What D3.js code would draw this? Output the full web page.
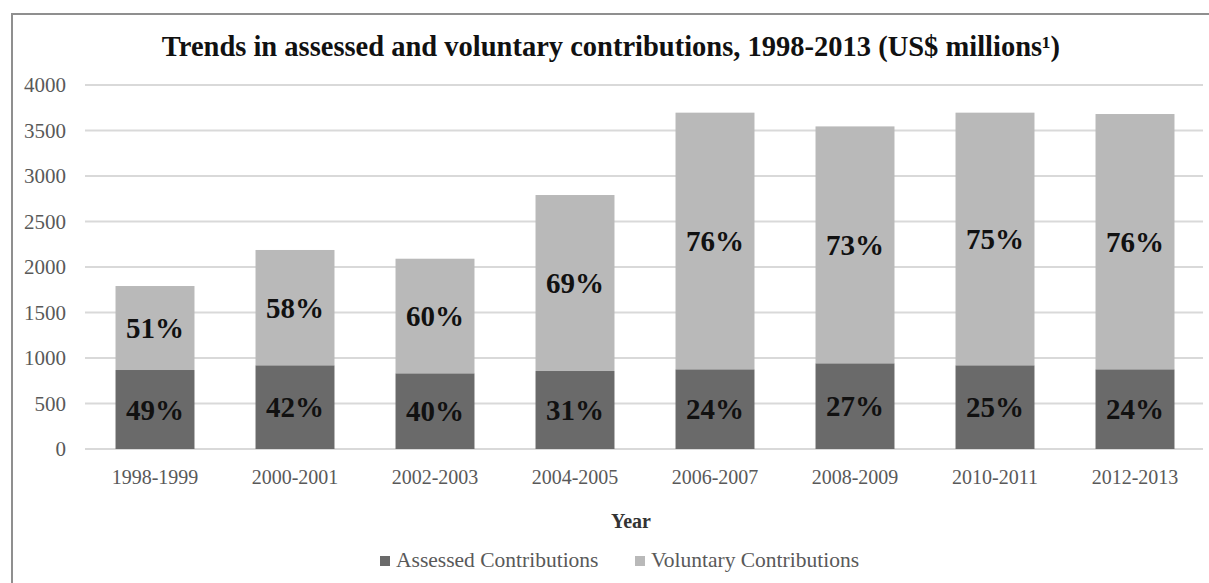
<!DOCTYPE html>
<html>
<head>
<meta charset="utf-8">
<script src="https://cdn.jsdelivr.net/npm/d3@7/dist/d3.min.js"></script>
<style>
  html, body { margin: 0; padding: 0; background: #fff; }
  svg { display: block; }
  text { font-family: "Liberation Serif", "Times New Roman", serif; }
</style>
</head>
<body>
<svg id="chart" width="1209" height="583"></svg>
<script>
// Biennium labels on the x axis
const periods = ["1998-1999", "2000-2001", "2002-2003", "2004-2005",
                 "2006-2007", "2008-2009", "2010-2011", "2012-2013"];
// US$ millions per biennium
const assessed  = [868, 920, 832, 857, 876, 942, 920, 876];
const voluntary = [923, 1267, 1259, 1934, 2820, 2603, 2776, 2805];
// Share of the biennium total, as printed on each segment
const assessedPct  = ["49%", "42%", "40%", "31%", "24%", "27%", "25%", "24%"];
const voluntaryPct = ["51%", "58%", "60%", "69%", "76%", "73%", "75%", "76%"];
const yTicks = [0, 500, 1000, 1500, 2000, 2500, 3000, 3500, 4000];

const seriesNames = ["Assessed Contributions", "Voluntary Contributions"];
const seriesColors = ["#6a6a6a", "#b9b9b9"];

const svg = d3.select("#chart");
const W = 1209, H = 583;
const plot = { left: 85, right: 1205, top: 85, bottom: 449 };

// Outer frame of the chart area
svg.append("rect")
  .attr("x", 12).attr("y", 14)
  .attr("width", W + 40).attr("height", H + 40)
  .attr("fill", "#fff").attr("stroke", "#8f8f8f").attr("stroke-width", 2);

// Title
svg.append("text")
  .attr("x", 611).attr("y", 56)
  .attr("text-anchor", "middle")
  .attr("font-size", 28.5).attr("font-weight", "bold").attr("fill", "#111")
  .text("Trends in assessed and voluntary contributions, 1998-2013 (US$ millions¹)");

const x = d3.scaleBand()
  .domain(periods)
  .range([plot.left, plot.right])
  .paddingInner(0.436)
  .paddingOuter(0.218);

const y = d3.scaleLinear()
  .domain([0, 4000])
  .range([plot.bottom, plot.top]);

// Horizontal gridlines
svg.append("g")
  .selectAll("line")
  .data(yTicks)
  .join("line")
  .attr("x1", plot.left).attr("x2", plot.right - 2)
  .attr("y1", d => y(d)).attr("y2", d => y(d))
  .attr("stroke", "#d9d9d9").attr("stroke-width", 2);

// Y axis labels
const yAxis = d3.axisLeft(y).tickValues(yTicks).tickSize(0).tickPadding(0)
  .tickFormat(d3.format("d"));
svg.append("g")
  .attr("transform", `translate(66,0)`)
  .call(yAxis)
  .call(g => g.select(".domain").remove())
  .call(g => g.selectAll("text")
    .attr("font-family", "Liberation Serif, serif")
    .attr("font-size", 21).attr("fill", "#595959"));

// Stacked bars
const rows = periods.map((p, i) => ({ period: p, assessed: assessed[i], voluntary: voluntary[i] }));
const stack = d3.stack().keys(["assessed", "voluntary"])(rows);
const labels = [assessedPct, voluntaryPct];

stack.forEach((layer, k) => {
  const g = svg.append("g");
  g.selectAll("rect")
    .data(layer)
    .join("rect")
    .attr("x", d => x(d.data.period))
    .attr("width", x.bandwidth())
    .attr("y", d => y(d[1]))
    .attr("height", d => y(d[0]) - y(d[1]))
    .attr("fill", seriesColors[k]);
  g.selectAll("text")
    .data(layer)
    .join("text")
    .attr("x", d => x(d.data.period) + x.bandwidth() / 2)
    .attr("y", d => (y(d[0]) + y(d[1])) / 2)
    .attr("dy", "0.35em")
    .attr("text-anchor", "middle")
    .attr("font-size", 29).attr("font-weight", "bold").attr("fill", "#111")
    .text((d, i) => labels[k][i]);
});

// X axis labels
const xAxis = d3.axisBottom(x).tickSize(0).tickPadding(0);
svg.append("g")
  .attr("transform", `translate(0,${plot.bottom + 35})`)
  .call(xAxis)
  .call(g => g.select(".domain").remove())
  .call(g => g.selectAll("text")
    .attr("dy", 0)
    .attr("font-family", "Liberation Serif, serif")
    .attr("font-size", 20).attr("fill", "#595959"));

// Axis title
svg.append("text")
  .attr("x", 631).attr("y", 528)
  .attr("text-anchor", "middle")
  .attr("font-size", 20).attr("font-weight", "bold").attr("fill", "#333")
  .text("Year");

// Legend
const legendItems = [
  { name: seriesNames[0], color: seriesColors[0], x: 380 },
  { name: seriesNames[1], color: seriesColors[1], x: 635 }
];
const lg = svg.append("g");
legendItems.forEach(it => {
  lg.append("rect")
    .attr("x", it.x).attr("y", 556)
    .attr("width", 10).attr("height", 10)
    .attr("fill", it.color);
  lg.append("text")
    .attr("x", it.x + 16).attr("y", 567)
    .attr("font-size", 21.5).attr("fill", "#595959")
    .text(it.name);
});
</script>
</body>
</html>
